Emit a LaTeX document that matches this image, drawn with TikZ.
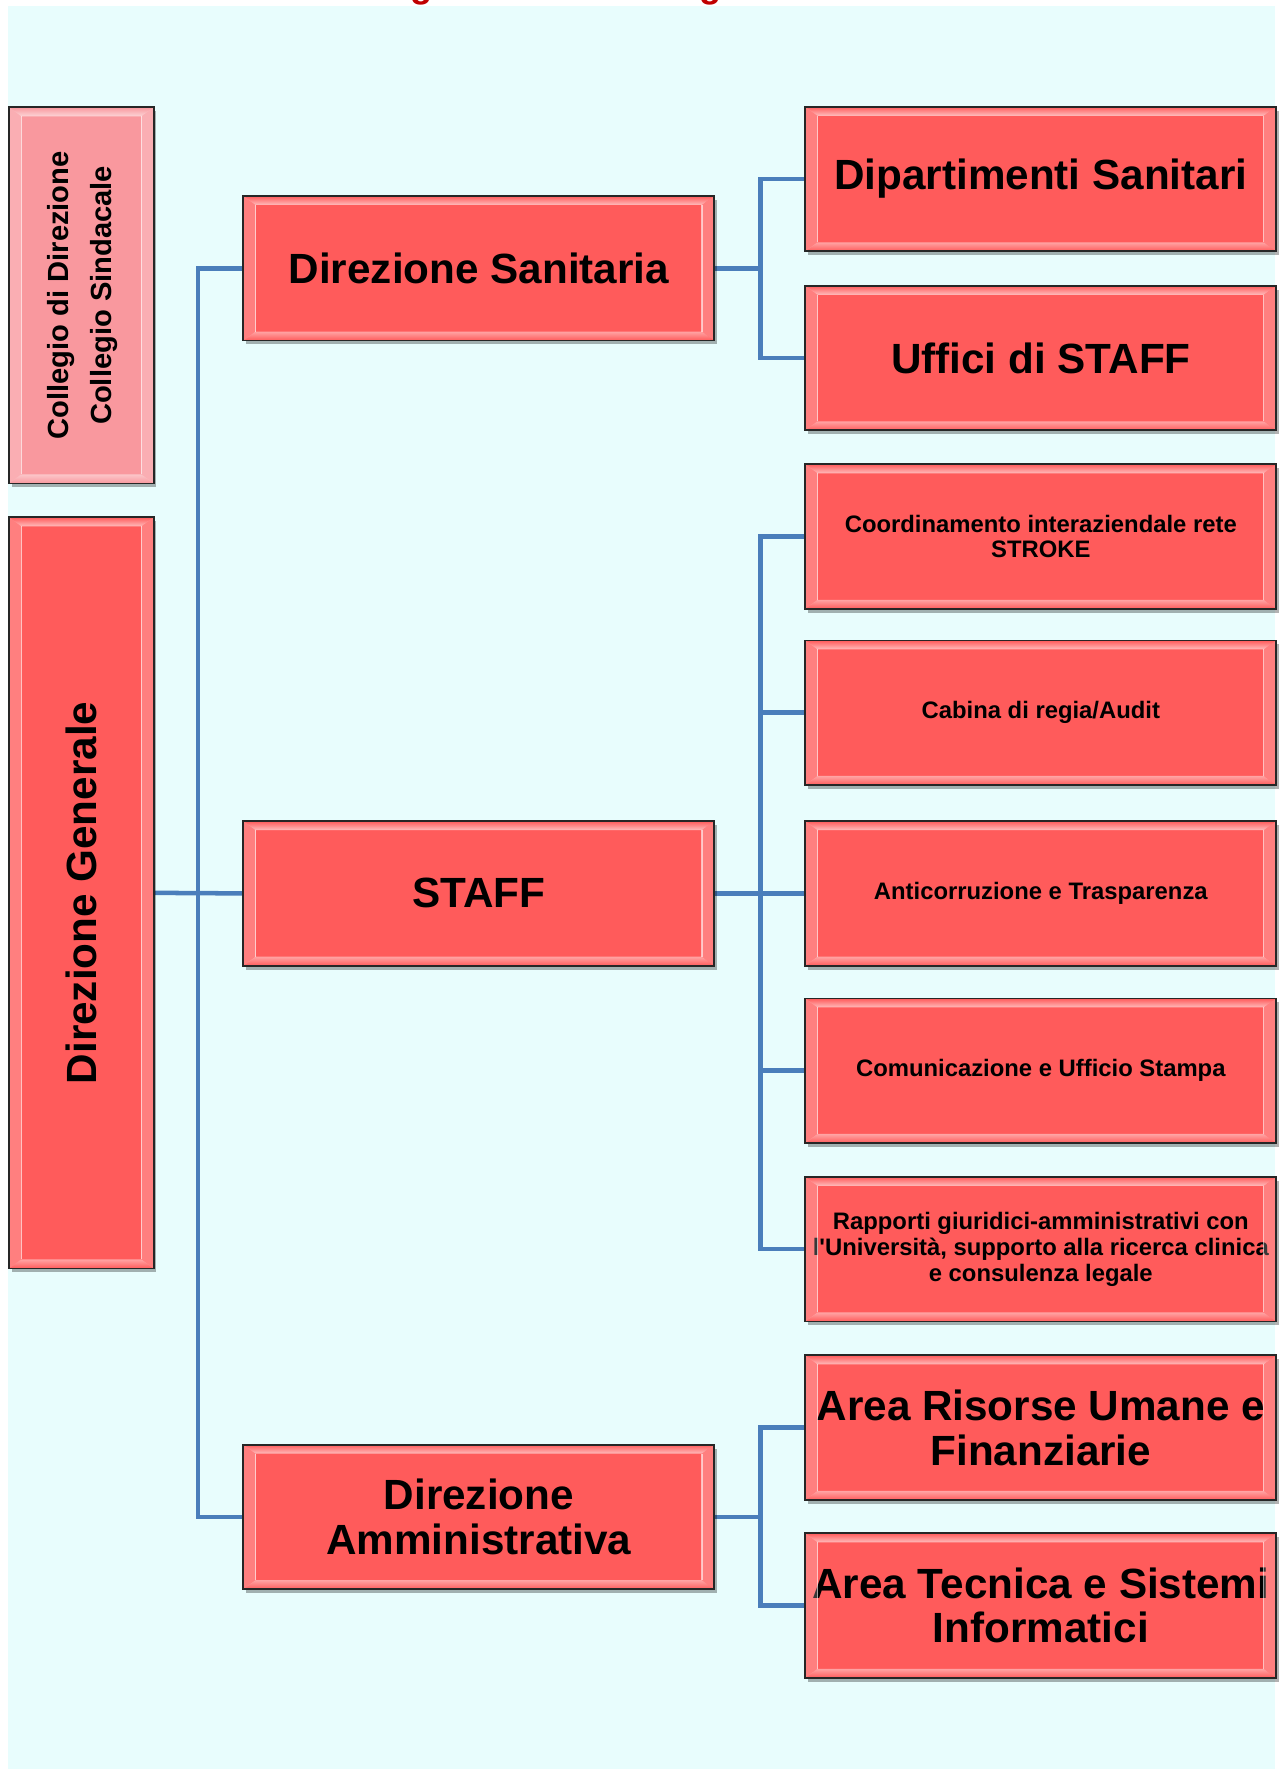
\documentclass[tikz,border=0pt]{standalone}
\usepackage{fontspec}
\setmainfont{Liberation Sans}[Ligatures=TeXOff]
\usepackage{graphicx}
\usetikzlibrary{shadows,fadings}

\definecolor{boxred}{HTML}{FF5B5B}
\definecolor{boxpink}{HTML}{F9989E}
\definecolor{paper}{HTML}{E8FDFD}
\definecolor{linkblue}{HTML}{4A7EBB}
\definecolor{titlered}{HTML}{C00000}

\pgfdeclarelayer{back}
\pgfdeclarelayer{links}
\pgfsetlayers{back,links,main}

\tikzset{
  unitbox/.style={draw=black!85, line width=1.6pt, fill=boxred, inner sep=0pt,
    outer sep=0pt, align=center,
    drop shadow={shadow xshift=2.5pt, shadow yshift=-3.5pt, opacity=0.3, fill=black}},
  wide/.style={unitbox, minimum width=417pt, minimum height=128pt},
  bigtext/.style={font=\bfseries\fontsize{37.4}{39.5}\selectfont},
  smalltext/.style={font=\bfseries\fontsize{21.1}{22.8}\selectfont},
  link/.style={draw=linkblue, line width=4pt, line join=miter},
}

% glossy bevel drawn over a box node
\newcommand\bevelon[1]{%
  \fill[white,opacity=0.6,path fading=north] (#1.north west) -- (#1.north east)
    -- ([xshift=-11pt,yshift=-8pt]#1.north east) -- ([xshift=11pt,yshift=-8pt]#1.north west) -- cycle;
  \fill[white,opacity=0.45,path fading=south] (#1.south west) -- (#1.south east)
    -- ([xshift=-11pt,yshift=8pt]#1.south east) -- ([xshift=11pt,yshift=8pt]#1.south west) -- cycle;
  \fill[white,opacity=0.22] (#1.north west) -- ([xshift=11pt,yshift=-8pt]#1.north west)
    -- ([xshift=11pt,yshift=8pt]#1.south west) -- (#1.south west) -- cycle;
  \fill[white,opacity=0.22] (#1.north east) -- ([xshift=-11pt,yshift=-8pt]#1.north east)
    -- ([xshift=-11pt,yshift=8pt]#1.south east) -- (#1.south east) -- cycle;
  \draw[white,opacity=0.6,line width=1pt]
    ([xshift=11pt,yshift=-8pt]#1.north west) -- ([xshift=11pt,yshift=8pt]#1.south west)
    ([xshift=-11pt,yshift=-8pt]#1.north east) -- ([xshift=-11pt,yshift=8pt]#1.south east);
  \draw[black!85,line width=1.6pt] (#1.north west) rectangle (#1.south east);
}

\begin{document}
\begin{tikzpicture}[x=1pt,y=-1pt]
\useasboundingbox (0,0) rectangle (1134,1568);

\begin{pgfonlayer}{back}
  \fill[white] (0,0) rectangle (1134,1568);
  \fill[paper] (7,5) rectangle (1129,1566);
\end{pgfonlayer}

% heading, mostly above the page edge
\node[font=\bfseries\fontsize{32}{32}\selectfont, text=titlered, anchor=base, inner sep=0pt] (headA) at (373,-2) {g};
\node[font=\bfseries\fontsize{32}{32}\selectfont, text=titlered, anchor=base, inner sep=0pt] (headB) at (629,-2) {g};

% left column
\node[unitbox, fill=boxpink, minimum width=128pt, minimum height=333pt] (COL) at (72,261.5)
  {\rotatebox{90}{\fontsize{25.8}{38}\selectfont\bfseries
   \begin{tabular}{@{}c@{}}Collegio di Direzione\\Collegio Sindacale\end{tabular}}};
\node[unitbox, minimum width=128pt, minimum height=665pt] (DG) at (72,790.5)
  {\rotatebox{90}{\bfseries\fontsize{37.4}{39.5}\selectfont Direzione Generale}};

% middle column
\node[wide, bigtext] (DS) at (424,237.5) {Direzione Sanitaria};
\node[wide, bigtext] (STAFF) at (424,791) {STAFF};
\node[wide, bigtext] (DA) at (424,1343) {Direzione\\Amministrativa};

% right column
\node[wide, bigtext] (DIP) at (921.5,158.5) {Dipartimenti Sanitari};
\node[wide, bigtext] (UFF) at (921.5,317) {Uffici di STAFF};
\node[wide, smalltext] (COO) at (921.5,475) {Coordinamento interaziendale rete\\STROKE};
\node[wide, smalltext] (CAB) at (921.5,631) {Cabina di regia/Audit};
\node[wide, smalltext] (ANT) at (921.5,791) {Anticorruzione e Trasparenza};
\node[wide, smalltext] (COM) at (921.5,948) {Comunicazione e Ufficio Stampa};
\node[wide, smalltext] (RAP) at (921.5,1106) {Rapporti giuridici-amministrativi con\\l'Università, supporto alla ricerca clinica\\e consulenza legale};
\node[wide, bigtext] (ARU) at (921.5,1264) {Area Risorse Umane e\\Finanziarie};
\node[wide, bigtext] (ATE) at (921.5,1421.5) {Area Tecnica e Sistemi\\Informatici};

\foreach \b in {COL,DG,DS,STAFF,DA,DIP,UFF,COO,CAB,ANT,COM,RAP,ARU,ATE} {\bevelon{\b}}

% connectors
\begin{pgfonlayer}{links}
  \draw[link] (DG.east) -- (STAFF.west);
  \draw[link] (DS.west) -- ++(-40,0) |- (DA.west);
  \draw[link] (DS.east) -- ++(41,0) |- (DIP.west);
  \draw[link] (DS.east) -- ++(41,0) |- (UFF.west);
  \foreach \t in {COO,CAB,ANT,COM,RAP}
    \draw[link] (STAFF.east) -- ++(41,0) |- (\t.west);
  \draw[link] (DA.east) -- ++(41,0) |- (ARU.west);
  \draw[link] (DA.east) -- ++(41,0) |- (ATE.west);
\end{pgfonlayer}
\end{tikzpicture}
\end{document}
